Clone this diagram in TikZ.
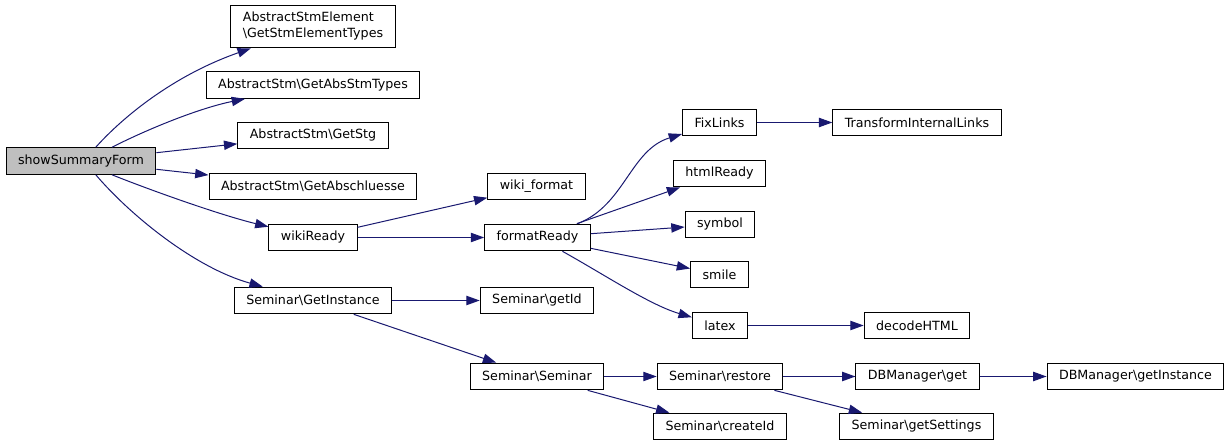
\documentclass[tikz,border=0pt]{standalone}
\usepackage{fontspec}
\setmainfont{DejaVu Sans}
\usetikzlibrary{arrows.meta}
\definecolor{callblue}{RGB}{25,25,112}
\definecolor{curgray}{RGB}{191,191,191}

\begin{document}
\begin{tikzpicture}[x=0.75pt,y=0.75pt,yscale=-1,xscale=1,
    fn/.style={draw=black,line width=0.75pt,inner xsep=9pt,inner ysep=0pt,minimum height=20pt,font=\fontsize{9.5}{12}\selectfont},
    call/.style={draw=callblue,line width=0.75pt,-{Triangle[length=10pt,width=7pt]}}]
      \useasboundingbox (0,0) rectangle (1229,445);
      % first column
      \node [fn,fill=curgray] (sum) at (81,161) {showSummaryForm};
      % second column
      \node [fn,align=left,minimum height=32pt] (ase) at (313,26.5) {AbstractStmElement\\\textbackslash GetStmElementTypes};
      \node [fn] (ast) at (313,85) {AbstractStm\textbackslash GetAbsStmTypes};
      \node [fn] (stg) at (313,135.5) {AbstractStm\textbackslash GetStg};
      \node [fn] (abs) at (313,186.5) {AbstractStm\textbackslash GetAbschluesse};
      \node [fn] (wr) at (313,237.5) {wikiReady};
      \node [fn] (gi) at (313,300.5) {Seminar\textbackslash GetInstance};
      % third column
      \node [fn] (wf) at (536.5,186.5) {wiki\_format};
      \node [fn] (fr) at (537.5,237.5) {formatReady};
      \node [fn] (gid) at (537,300.5) {Seminar\textbackslash getId};
      \node [fn] (sem) at (537,376.5) {Seminar\textbackslash Seminar};
      % fourth column
      \node [fn] (fl) at (719.5,122.5) {FixLinks};
      \node [fn] (hr) at (719.5,173.5) {htmlReady};
      \node [fn] (sym) at (720,224.5) {symbol};
      \node [fn] (sm) at (719.5,274.5) {smile};
      \node [fn] (lx) at (720,325.5) {latex};
      \node [fn] (rs) at (720,376.5) {Seminar\textbackslash restore};
      \node [fn] (ci) at (720,426.5) {Seminar\textbackslash createId};
      % fifth column
      \node [fn] (til) at (917,122.5) {TransformInternalLinks};
      \node [fn] (dh) at (917,325.5) {decodeHTML};
      \node [fn] (dbg) at (917.5,376.5) {DBManager\textbackslash get};
      \node [fn] (gs) at (916.5,426.5) {Seminar\textbackslash getSettings};
      % sixth column
      \node [fn] (dbi) at (1135.5,376.5) {DBManager\textbackslash getInstance};

      % calls
      \draw [call] (sum.43) .. controls (122,118) and (172,76) .. (ase);
      \draw [call] (sum.24) .. controls (150,128) and (200,108) .. (ast);
      \draw [call] (sum) -- (stg);
      \draw [call] (sum) -- (abs);
      \draw [call] (sum.336) .. controls (150,190) and (220,215) .. (wr);
      \draw [call] (sum.317) .. controls (130,215) and (195,268) .. (gi);
      \draw [call] (wr) -- (wf);
      \draw [call] (wr) -- (fr);
      \draw [call] (gi) -- (gid);
      \draw [call] (gi) -- (sem);
      \draw [call] (fr.19) .. controls (625,205) and (630,150) .. (fl);
      \draw [call] (fr) -- (hr);
      \draw [call] (fr) -- (sym);
      \draw [call] (fr) -- (sm);
      \draw [call] (fr.331) .. controls (605,275) and (650,305) .. (lx);
      \draw [call] (fl) -- (til);
      \draw [call] (lx) -- (dh);
      \draw [call] (sem) -- (rs);
      \draw [call] (sem) -- (ci);
      \draw [call] (rs) -- (dbg);
      \draw [call] (rs) -- (gs);
      \draw [call] (dbg) -- (dbi);
\end{tikzpicture}
\end{document}
